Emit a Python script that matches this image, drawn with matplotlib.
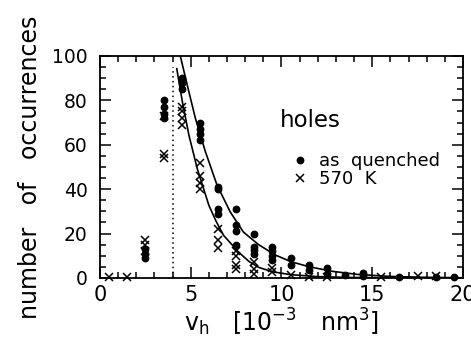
import matplotlib
matplotlib.use('Agg')
import matplotlib.pyplot as plt
from matplotlib.lines import Line2D
from matplotlib.ticker import MultipleLocator

plt.rcParams['font.family'] = ['DejaVu Sans']
plt.rcParams['mathtext.default'] = 'regular'

# hole volume bins (10^-3 nm^3) and counts
quenched_x = [2.5, 2.5, 2.5, 3.5, 3.5, 3.5, 3.5, 4.5, 4.5, 4.5,
              5.5, 5.5, 5.5, 5.5, 6.5, 6.5, 6.5, 6.5, 7.5, 7.5, 7.5, 7.5,
              8.5, 8.5, 8.5, 8.5, 9.5, 9.5, 9.5, 9.5, 10.5, 10.5,
              11.5, 11.5, 12.5, 12.5, 13.5, 14.5, 14.5, 16.5, 18.5, 19.5]
quenched_y = [13, 11, 9, 80, 77, 74, 72, 90, 88, 85,
              70, 67, 65, 62, 41, 40, 31, 29, 31, 24, 21, 15,
              20, 14, 12.5, 11, 14, 12, 10, 8, 9, 6,
              6, 3.6, 4.4, 2, 1.3, 2.4, 1, 0.5, 0.5, 0.5]

annealed_x = [0.5, 1.5, 2.5, 2.5, 2.5, 3.5, 3.5, 3.5, 4.5, 4.5, 4.5, 4.5,
              5.5, 5.5, 5.5, 5.5, 6.5, 6.5, 6.5, 7.5, 7.5, 7.5, 7.5,
              8.5, 8.5, 8.5, 9.5, 9.5, 10.5, 11.5, 12.5, 15.5, 17.5, 18.5]
annealed_y = [0.5, 0.5, 17, 15, 12, 73, 56, 54, 77, 75, 72, 69,
              52, 46, 43, 40, 22, 17, 13.5, 12, 10, 6, 4,
              7, 4, 2, 4.4, 2.8, 1.3, 0.6, 0.5, 0.5, 1, 1]

# fitted curves
fit_q_x = [4.44, 4.81, 5.26, 5.81, 6.45, 7.18, 7.9, 8.74, 9.65, 10.5, 11.5, 12.8, 14.2, 16, 18, 20]
fit_q_y = [99.5, 86.8, 71.8, 56.8, 41.8, 29.7, 20.7, 15, 10.4, 7.4, 5.1, 3.0, 1.6, 0.7, 0.3, 0.1]
fit_a_x = [4.23, 4.54, 4.9, 5.36, 6.0, 6.4, 6.81, 7.63, 8.2, 8.74, 9.5, 10.5, 12, 14, 17, 20]
fit_a_y = [94.3, 79.3, 64.3, 49.2, 32.7, 25.5, 19.2, 11.7, 7.5, 4.8, 2.8, 1.5, 0.6, 0.2, 0.1, 0.0]

cutoff_x = [4.0, 4.0]
cutoff_y = [0, 95]

fig = plt.figure(figsize=(4.71, 3.41), dpi=100)
ax = fig.add_axes([0.2123, 0.1848, 0.7707, 0.651])

ax.plot(fit_q_x, fit_q_y, color='black', linewidth=1.2)
ax.plot(fit_a_x, fit_a_y, color='black', linewidth=1.2)
ax.plot(cutoff_x, cutoff_y, color='black', linestyle=(0, (1, 2.2)), linewidth=1.1)
ax.plot(quenched_x, quenched_y, 'o', color='black', markersize=4.6, clip_on=False)
ax.plot(annealed_x, annealed_y, 'x', color='black', markersize=5.5, markeredgewidth=1.1, clip_on=False)

ax.set_xlim(0, 20)
ax.set_ylim(0, 100)
ax.xaxis.set_major_locator(MultipleLocator(5))
ax.xaxis.set_minor_locator(MultipleLocator(1))
ax.yaxis.set_major_locator(MultipleLocator(20))
ax.yaxis.set_minor_locator(MultipleLocator(5))
ax.tick_params(which='both', direction='in', top=True, right=True, width=1.1)
ax.tick_params(which='major', length=8)
ax.tick_params(which='minor', length=4.5)
ax.tick_params(axis='y', labelsize=13.5, pad=9)
ax.tick_params(axis='x', labelsize=15, pad=5)
for s in ax.spines.values():
    s.set_linewidth(1.3)

ax.set_ylabel('number   of   occurrences', fontsize=17, labelpad=7)
ax.set_xlabel(r'$v_h\ \ \ [10^{-3}\ \ \ nm^3]$', fontsize=17, labelpad=1)

ax.text(9.9, 71, 'holes', fontsize=16.5, va='center', ha='left')
handles = [Line2D([], [], marker='o', color='black', linestyle='none', markersize=4.6),
           Line2D([], [], marker='x', color='black', linestyle='none', markersize=5.5, markeredgewidth=1.1)]
ax.legend(handles, ['as  quenched', '570  K'], frameon=False, fontsize=13,
          loc='upper left', bbox_to_anchor=(0.515, 0.6), handlelength=0.6,
          handletextpad=0.8, labelspacing=0.0, borderaxespad=0)

fig.savefig('out.png', dpi=100)
